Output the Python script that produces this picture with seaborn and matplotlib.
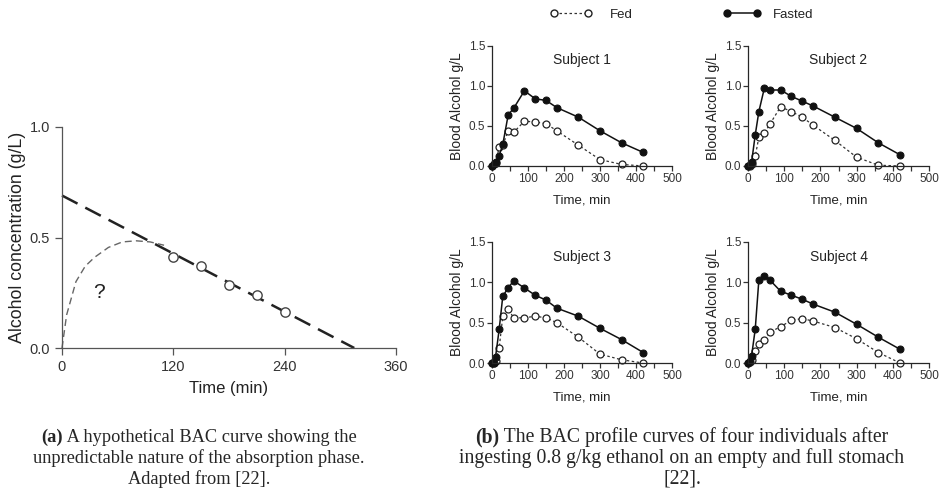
import numpy as np
import pandas as pd
import matplotlib
matplotlib.use("Agg")
import matplotlib.pyplot as plt
import seaborn as sns
from matplotlib.lines import Line2D
from matplotlib.ticker import MultipleLocator

# --- panel (a): hypothetical BAC curve ---
elim_time = [0, 315]
elim_bac = [0.69, 0.0]
obs_time = [120, 150, 180, 210, 240]
obs_bac = [0.41, 0.37, 0.285, 0.24, 0.165]
abs_time = [0, 5, 15, 25, 35, 50, 65, 80, 95, 110]
abs_bac = [0.0, 0.15, 0.30, 0.37, 0.41, 0.455, 0.48, 0.485, 0.48, 0.465]

# --- panel (b): four subjects, fed vs fasted ---
times = [0, 5, 10, 20, 30, 45, 60, 90, 120, 150, 180, 240, 300, 360, 420]
subjects = ["Subject 1", "Subject 2", "Subject 3", "Subject 4"]
fasted = [
    [0, 0.02, 0.05, 0.13, 0.27, 0.64, 0.72, 0.94, 0.84, 0.82, 0.73, 0.61, 0.44, 0.29, 0.17],
    [0, 0.01, 0.05, 0.39, 0.68, 0.97, 0.95, 0.95, 0.87, 0.81, 0.75, 0.61, 0.47, 0.29, 0.14],
    [0, 0.00, 0.08, 0.42, 0.83, 0.93, 1.02, 0.93, 0.84, 0.78, 0.68, 0.58, 0.43, 0.29, 0.13],
    [0, 0.02, 0.09, 0.42, 1.03, 1.08, 1.03, 0.89, 0.84, 0.79, 0.73, 0.63, 0.48, 0.32, 0.17],
]
fed = [
    [0, 0.02, 0.04, 0.24, 0.26, 0.44, 0.42, 0.56, 0.55, 0.53, 0.44, 0.26, 0.08, 0.02, 0.0],
    [0, 0.00, 0.03, 0.12, 0.36, 0.41, 0.52, 0.74, 0.68, 0.61, 0.51, 0.32, 0.11, 0.01, 0.0],
    [0, 0.00, 0.02, 0.19, 0.58, 0.67, 0.56, 0.56, 0.58, 0.56, 0.50, 0.32, 0.11, 0.04, 0.0],
    [0, 0.01, 0.04, 0.15, 0.24, 0.28, 0.38, 0.45, 0.53, 0.55, 0.52, 0.44, 0.30, 0.13, 0.0],
]

sns.set_theme(style="ticks")
plt.rcParams['font.family'] = ['Liberation Sans', 'DejaVu Sans']
plt.rcParams['axes.linewidth'] = 0.9
plt.rcParams['xtick.major.width'] = 0.9
plt.rcParams['ytick.major.width'] = 0.9
plt.rcParams['xtick.minor.width'] = 0.9

W, H = 940, 499
fig = plt.figure(figsize=(W / 100, H / 100), dpi=100)


def px_axes(left, top, right, bottom):
    return fig.add_axes([left / W, 1 - bottom / H, (right - left) / W, (bottom - top) / H])


# panel (a)
ax = px_axes(62, 127, 396, 348)
sns.lineplot(x=elim_time, y=elim_bac, ax=ax, color="#222222", lw=1.8,
             linestyle=(0, (7, 3.5)), clip_on=False)
sns.lineplot(x=abs_time, y=abs_bac, ax=ax, color="#666666", lw=1.0,
             linestyle=(0, (5, 3)), clip_on=False)
sns.scatterplot(x=obs_time, y=obs_bac, ax=ax, s=45, facecolor="white",
                edgecolor="#444444", linewidth=1.0, zorder=5)
ax.text(40, 0.25, "?", fontsize=15, ha="center", va="center", color="#222222")
ax.set_xlim(0, 360)
ax.set_ylim(0, 1.0)
ax.set_xticks([0, 120, 240, 360])
ax.set_yticks([0, 0.5, 1.0])
ax.set_yticklabels(["0.0", "0.5", "1.0"])
ax.tick_params(labelsize=10.5, length=5, color="#555555", labelcolor="#333333")
ax.set_xlabel("Time (min)", fontsize=12, color="#222222", labelpad=5)
ax.set_ylabel("Alcohol concentration (g/L)", fontsize=12.8, color="#222222", labelpad=3)
for sp in ax.spines.values():
    sp.set_color("#555555")
sns.despine(ax=ax)

# panel (b)
boxes = [(492, 46, 672, 166), (748, 46, 929, 166),
         (492, 242, 672, 363), (748, 242, 929, 363)]
for name, box, fa, fe in zip(subjects, boxes, fasted, fed):
    a = px_axes(*box)
    sns.lineplot(x=times, y=fe, ax=a, color="#333333", lw=0.9,
                 linestyle=(0, (2, 2)), marker="o", markersize=5,
                 markerfacecolor="white", markeredgecolor="#222222",
                 markeredgewidth=0.9, clip_on=False)
    sns.lineplot(x=times, y=fa, ax=a, color="#111111", lw=1.1,
                 marker="o", markersize=5, markerfacecolor="#111111",
                 markeredgecolor="#111111", clip_on=False)
    a.set_xlim(0, 500)
    a.set_ylim(0, 1.5)
    a.set_xticks([0, 100, 200, 300, 400, 500])
    a.xaxis.set_minor_locator(MultipleLocator(50))
    a.set_yticks([0, 0.5, 1.0, 1.5])
    a.set_yticklabels(["0.0", "0.5", "1.0", "1.5"])
    a.tick_params(which="both", labelsize=8.5, length=3.5, color="#333333",
                  labelcolor="#333333", pad=1.5)
    a.set_xlabel("Time, min", fontsize=9.5, color="#222222", labelpad=7)
    a.set_ylabel("Blood Alcohol g/L", fontsize=10, color="#222222", labelpad=3)
    a.text(0.5, 0.88, name, transform=a.transAxes, ha="center", va="center",
           fontsize=10, color="#222222")
    sns.despine(ax=a)

fed_handle = Line2D([], [], color="#333333", lw=0.9, linestyle=(0, (2, 2)),
                    marker="o", markersize=5, markerfacecolor="white",
                    markeredgecolor="#222222")
fasted_handle = Line2D([], [], color="#111111", lw=1.1, marker="o",
                       markersize=5, markerfacecolor="#111111")
leg_y = 1 - 15 / H
fig.legend([fed_handle], ["Fed"], frameon=False, numpoints=2, loc="center left",
           bbox_to_anchor=(550 / W, leg_y), borderaxespad=0, borderpad=0,
           fontsize=9.5, handlelength=3.2, handletextpad=1.35, labelcolor="#222222")
fig.legend([fasted_handle], ["Fasted"], frameon=False, numpoints=2, loc="center left",
           bbox_to_anchor=(723 / W, leg_y), borderaxespad=0, borderpad=0,
           fontsize=9.5, handlelength=2.9, handletextpad=0.9, labelcolor="#222222")

# captions
serif = ['Liberation Serif', 'DejaVu Serif']
fig.canvas.draw()
renderer = fig.canvas.get_renderer()


def caption_line(cx, cy, bold, rest, size):
    y = 1 - cy / H
    if bold:
        tb = fig.text(0, y, bold, fontsize=size, family=serif,
                      weight="bold", va="center")
        tr = fig.text(0, y, " " + rest, fontsize=size, family=serif, va="center")
        wb = tb.get_window_extent(renderer).width
        wr = tr.get_window_extent(renderer).width
        x0 = cx - (wb + wr) / 2
        tb.set_x(x0 / W)
        tr.set_x((x0 + wb) / W)
    else:
        fig.text(cx / W, y, rest, fontsize=size, family=serif,
                 ha="center", va="center")


cap_a, cap_b = 13.2, 14.2
caption_line(199, 437, "(a)", "A hypothetical BAC curve showing the", cap_a)
caption_line(199, 458, None, "unpredictable nature of the absorption phase.", cap_a)
caption_line(199, 479, None, "Adapted from [22].", cap_a)
caption_line(682, 437, "(b)", "The BAC profile curves of four individuals after", cap_b)
caption_line(682, 458, None, "ingesting 0.8 g/kg ethanol on an empty and full stomach", cap_b)
caption_line(682, 479, None, "[22].", cap_b)

fig.savefig("out.png", dpi=100)
